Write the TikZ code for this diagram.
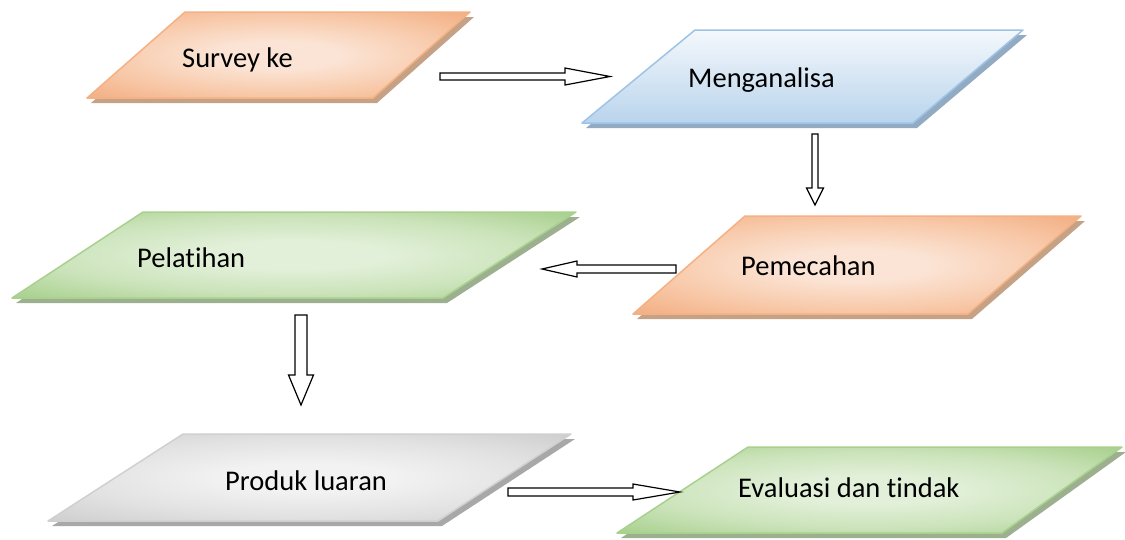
\documentclass[tikz,border=0pt]{standalone}
\usepackage{fontspec}
\setmainfont{Carlito}[Ligatures=NoCommon]
\usetikzlibrary{calc}
\definecolor{orline}{HTML}{F4B183}
\definecolor{orin}{HTML}{FBE4D5}
\definecolor{ormid}{HTML}{F8CAAB}
\definecolor{orout}{HTML}{F2AD80}
\definecolor{orsh}{HTML}{C5A286}
\definecolor{blline}{HTML}{9DC3E6}
\definecolor{bltop}{HTML}{F4F8FC}
\definecolor{blbot}{HTML}{B9D4EC}
\definecolor{blsh}{HTML}{93ABC2}
\definecolor{grline}{HTML}{A9D18E}
\definecolor{grin}{HTML}{E2F0D9}
\definecolor{grmid}{HTML}{CBE3BA}
\definecolor{grout}{HTML}{A5CF8A}
\definecolor{grsh}{HTML}{9CB08F}
\definecolor{gyline}{HTML}{D0D0D0}
\definecolor{gyin}{HTML}{F2F2F2}
\definecolor{gymid}{HTML}{E2E2E2}
\definecolor{gyout}{HTML}{CDCDCD}
\definecolor{gysh}{HTML}{A8A8A8}
\pgfdeclareradialshading{orshade}{\pgfpoint{0bp}{0bp}}{color(0bp)=(orin); color(8bp)=(orin); color(22bp)=(ormid); color(36bp)=(orout); color(50bp)=(orout)}
\pgfdeclareradialshading{grshade}{\pgfpoint{0bp}{0bp}}{color(0bp)=(grin); color(8bp)=(grin); color(22bp)=(grmid); color(36bp)=(grout); color(50bp)=(grout)}
\pgfdeclareradialshading{gyshade}{\pgfpoint{0bp}{0bp}}{color(0bp)=(gyin); color(8bp)=(gyin); color(22bp)=(gymid); color(36bp)=(gyout); color(50bp)=(gyout)}
\tikzset{
  orbox/.style={draw=orline, line width=1.5pt, line join=round, shade, shading=orshade},
  grbox/.style={draw=grline, line width=1.5pt, line join=round, shade, shading=grshade},
  gybox/.style={draw=gyline, line width=1.5pt, line join=round, shade, shading=gyshade},
  blbox/.style={draw=blline, line width=1.5pt, line join=round, shade, top color=bltop, bottom color=blbot},
  orshadow/.style={fill=orsh},
  grshadow/.style={fill=grsh},
  gyshadow/.style={fill=gysh},
  blshadow/.style={fill=blsh},
  lbl/.style={font=\fontsize{28.5}{34}\selectfont, inner sep=0pt, anchor=base west, text=black},
  barrow/.style={draw=black, fill=white, line width=1.2pt, line join=miter}
}
% #1 palette, #2 TLx, #3 TRx, #4 top y, #5 BLx, #6 BRx, #7 bottom y
\newcommand\pgram[7]{%
  \fill[#1shadow] (#2+4,#4+5) -- (#3+4,#4+5) -- (#6+4,#7+5) -- (#5+4,#7+5) -- cycle;
  \draw[#1box] (#2,#4) -- (#3,#4) -- (#6,#7) -- (#5,#7) -- cycle;
}
% #1 start coordinate, #2 axis vectors, #3 length, #4 shaft half, #5 head half, #6 head length
\newcommand\blockarr[6]{%
  \begin{scope}[shift={(#1)},#2]
    \draw[barrow] (0,-#4) -- (#3-#6,-#4) -- (#3-#6,-#5) -- (#3,0) -- (#3-#6,#5) -- (#3-#6,#4) -- (0,#4) -- cycle;
  \end{scope}}
\begin{document}
\begin{tikzpicture}[x=1pt,y=-1pt]
\useasboundingbox[fill=white] (0,0) rectangle (1125,539);
% boxes
\pgram{or}{185}{470}{12}{87}{373}{98}
\pgram{bl}{695}{1023}{30}{582}{913}{123}
\pgram{gr}{143}{576}{212}{12}{443}{298}
\pgram{or}{745}{1081}{216}{633}{968}{314}
\pgram{gy}{183}{571}{434}{48}{438}{521}
\pgram{gr}{748}{1122}{447}{617}{1002}{533}
% labels
\node[lbl] (survey) at (182,67) {Survey ke};
\node[lbl] (analisa) at (688,87) {Menganalisa};
\node[lbl] (pelatihan) at (137,267) {Pelatihan};
\node[lbl] (pemecahan) at (741,275) {Pemecahan};
\node[lbl] (produk) at (225,490) {Produk luaran};
\node[lbl] (evaluasi) at (738,497) {Evaluasi dan tindak};
% arrow end points
\coordinate (a1s) at (440,76.5);  \coordinate (a1e) at (610,76.5);
\coordinate (a2s) at (815,134);   \coordinate (a2e) at (815,205);
\coordinate (a3s) at (676,269);   \coordinate (a3e) at (542,269);
\coordinate (a4s) at (301,315);   \coordinate (a4e) at (301,405);
\coordinate (a5s) at (508,492);   \coordinate (a5e) at (680,492);
\blockarr{a1s}{x={(1pt,0pt)},y={(0pt,-1pt)}}{170}{3.5}{8.5}{45}
\blockarr{a2s}{x={(0pt,-1pt)},y={(1pt,0pt)}}{71}{3}{8.5}{17}
\blockarr{a3s}{x={(-1pt,0pt)},y={(0pt,-1pt)}}{134}{4}{8}{35}
\blockarr{a4s}{x={(0pt,-1pt)},y={(1pt,0pt)}}{90}{6}{12.5}{30}
\blockarr{a5s}{x={(1pt,0pt)},y={(0pt,-1pt)}}{172}{4}{8}{47}
\end{tikzpicture}
\end{document}
